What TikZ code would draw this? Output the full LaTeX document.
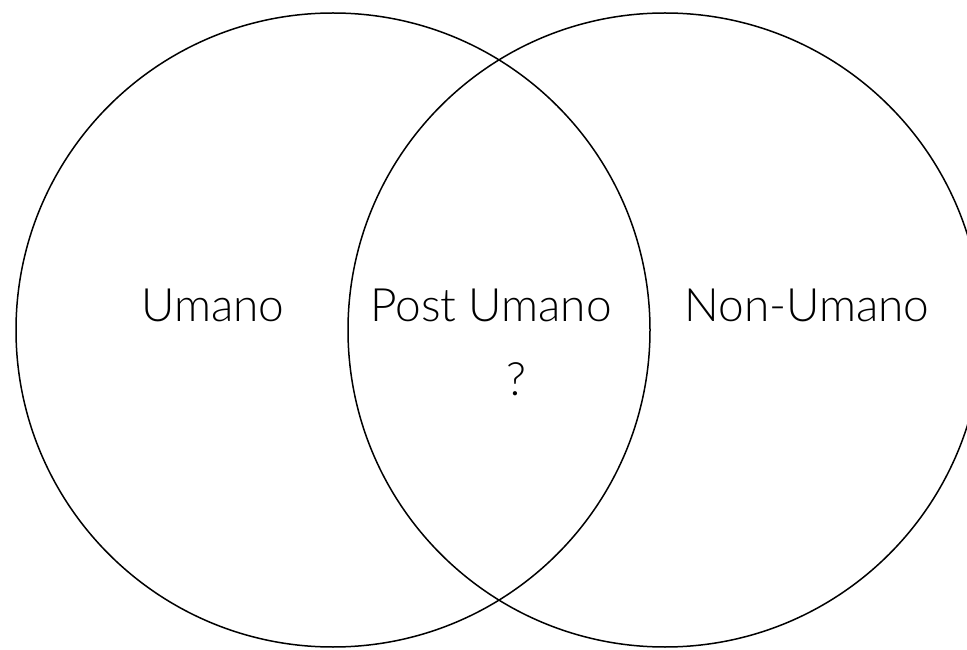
\documentclass[tikz,border=0pt]{standalone}
\usepackage{fontspec}
\setmainfont{Lato Light}
\begin{document}
\begin{tikzpicture}[x=1pt,y=1pt,
  setc/.style={circle,draw=black,line width=1.5pt,minimum size=634pt,inner sep=0pt},
  lbl/.style={anchor=base,font=\fontsize{46}{55}\selectfont,inner sep=0pt}]
\useasboundingbox (0,0) rectangle (967,649);
\node[setc] (left) at (333,319) {};
\node[setc] (right) at (665,319) {};
\node[lbl] (umano) at (213,327) {Umano};
\node[lbl] (post) at (491,327) {Post Umano};
\node[lbl] (q) at (516,254) {?};
\node[lbl] (non) at (807,327) {Non-Umano};
\end{tikzpicture}
\end{document}
